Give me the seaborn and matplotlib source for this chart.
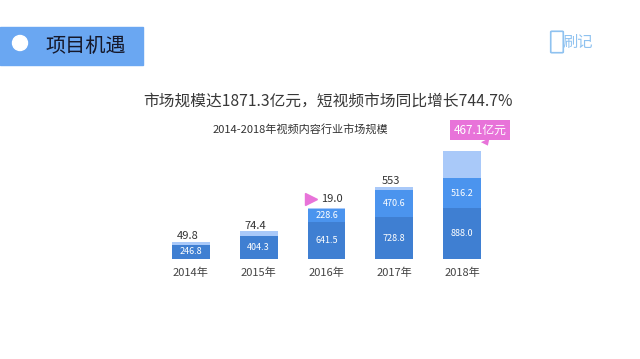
import matplotlib
matplotlib.use('Agg')
import matplotlib.pyplot as plt
import matplotlib.patches as mpatches
import numpy as np
import pandas as pd
import seaborn as sns

sns.set_theme(style='white')
plt.rcParams['font.family'] = ['Noto Sans CJK SC', 'DejaVu Sans']

# data (亿元)
years = ['2014年', '2015年', '2016年', '2017年', '2018年']
long_video = [246.8, 404.3, 641.5, 728.8, 888.0]
other_video = [0.0, 0.0, 228.6, 470.6, 516.2]
short_video = [49.8, 74.4, 19.0, 55.3, 467.1]
short_labels = ['49.8', '74.4', '19.0', '553', '467.1亿元']

c_dark = '#3f7fd2'
c_mid = '#4b94ee'
c_light = '#a9c9f9'
c_pink = '#e873d9'

df = pd.DataFrame({'year': years, 'long': long_video, 'other': other_video, 'short': short_video})
df['lvl2'] = df['long'] + df['other']
df['total'] = df['lvl2'] + df['short']

fig = plt.figure(figsize=(6.4, 3.59), dpi=100)

# header band
fig.patches.append(mpatches.Rectangle((0, 1 - 65/359), 143/640, 38/359, transform=fig.transFigure,
                                      color='#6aa7f2', zorder=0))
fig.patches.append(mpatches.Ellipse((20/640, 1 - 43/359), 15/640, 15/359, transform=fig.transFigure,
                                    color='white', zorder=1))
fig.text(45/640, 1 - 46/359, '项目机遇', fontsize=14.5, color='#15182a', va='center', ha='left')

# logo-ish
fig.text(578/640, 1 - 42/359, '刷记', fontsize=11, color='#8fc2f0', va='center', ha='center')
fig.patches.append(mpatches.FancyBboxPatch((552/640, 1 - 52/359), 10/640, 20/359,
                                           boxstyle='round,pad=0.002', transform=fig.transFigure,
                                           fill=False, ec='#8fc2f0', lw=1.2))

fig.text(328/640, 1 - 101/359, '市场规模达1871.3亿元，短视频市场同比增长744.7%',
         fontsize=11.3, color='#383838', ha='center', va='center')
fig.text(300/640, 1 - 129/359, '2014-2018年视频内容行业市场规模',
         fontsize=8, color='#333333', ha='center', va='center')

ax = fig.add_axes([157/640, 100/359, 339/640, 115/359])
for col, c in [('total', c_light), ('lvl2', c_mid), ('long', c_dark)]:
    sns.barplot(data=df, x='year', y=col, color=c, width=0.56, saturation=1, linewidth=0, ax=ax)
ax.set_ylim(0, 2000)
ax.set_xlim(-0.5, 4.5)
ax.set_xlabel('')
ax.set_ylabel('')
ax.set_yticks([])
ax.tick_params(axis='x', length=0, labelsize=8, labelcolor='#444444', pad=6)
sns.despine(ax=ax, left=True, bottom=True)

for i, row in df.iterrows():
    ax.text(i, row['long'] / 2, f"{row['long']:.1f}", color='white', fontsize=6.5,
            ha='center', va='center')
    if row['other'] > 0:
        ax.text(i, row['long'] + row['other'] / 2, f"{row['other']:.1f}", color='white',
                fontsize=6.5, ha='center', va='center')

# labels of the short video series
for i in [0, 1, 3]:
    ax.text(i - 0.05, df['total'][i] + 10, short_labels[i], fontsize=8, color='#333333',
            ha='center', va='bottom')
ax.plot(2 - 0.23, df['total'][2] + 150, marker='>', color=c_pink, markersize=8, clip_on=False)
ax.text(2 + 0.08, df['total'][2] + 150, short_labels[2], fontsize=8, color='#333333',
        ha='center', va='center')
ax.annotate(short_labels[4], xy=(4.38, df['total'][4] + 100), xytext=(4.27, df['total'][4] + 370),
            fontsize=8.5, color='white', ha='center', va='center',
            bbox=dict(boxstyle='square,pad=0.3', fc=c_pink, ec='none'),
            arrowprops=dict(arrowstyle='wedge,tail_width=0.8,shrink_factor=0.5', fc=c_pink, ec='none',
                            shrinkA=0, shrinkB=0),
            annotation_clip=False)

fig.savefig('out.png', dpi=100)
